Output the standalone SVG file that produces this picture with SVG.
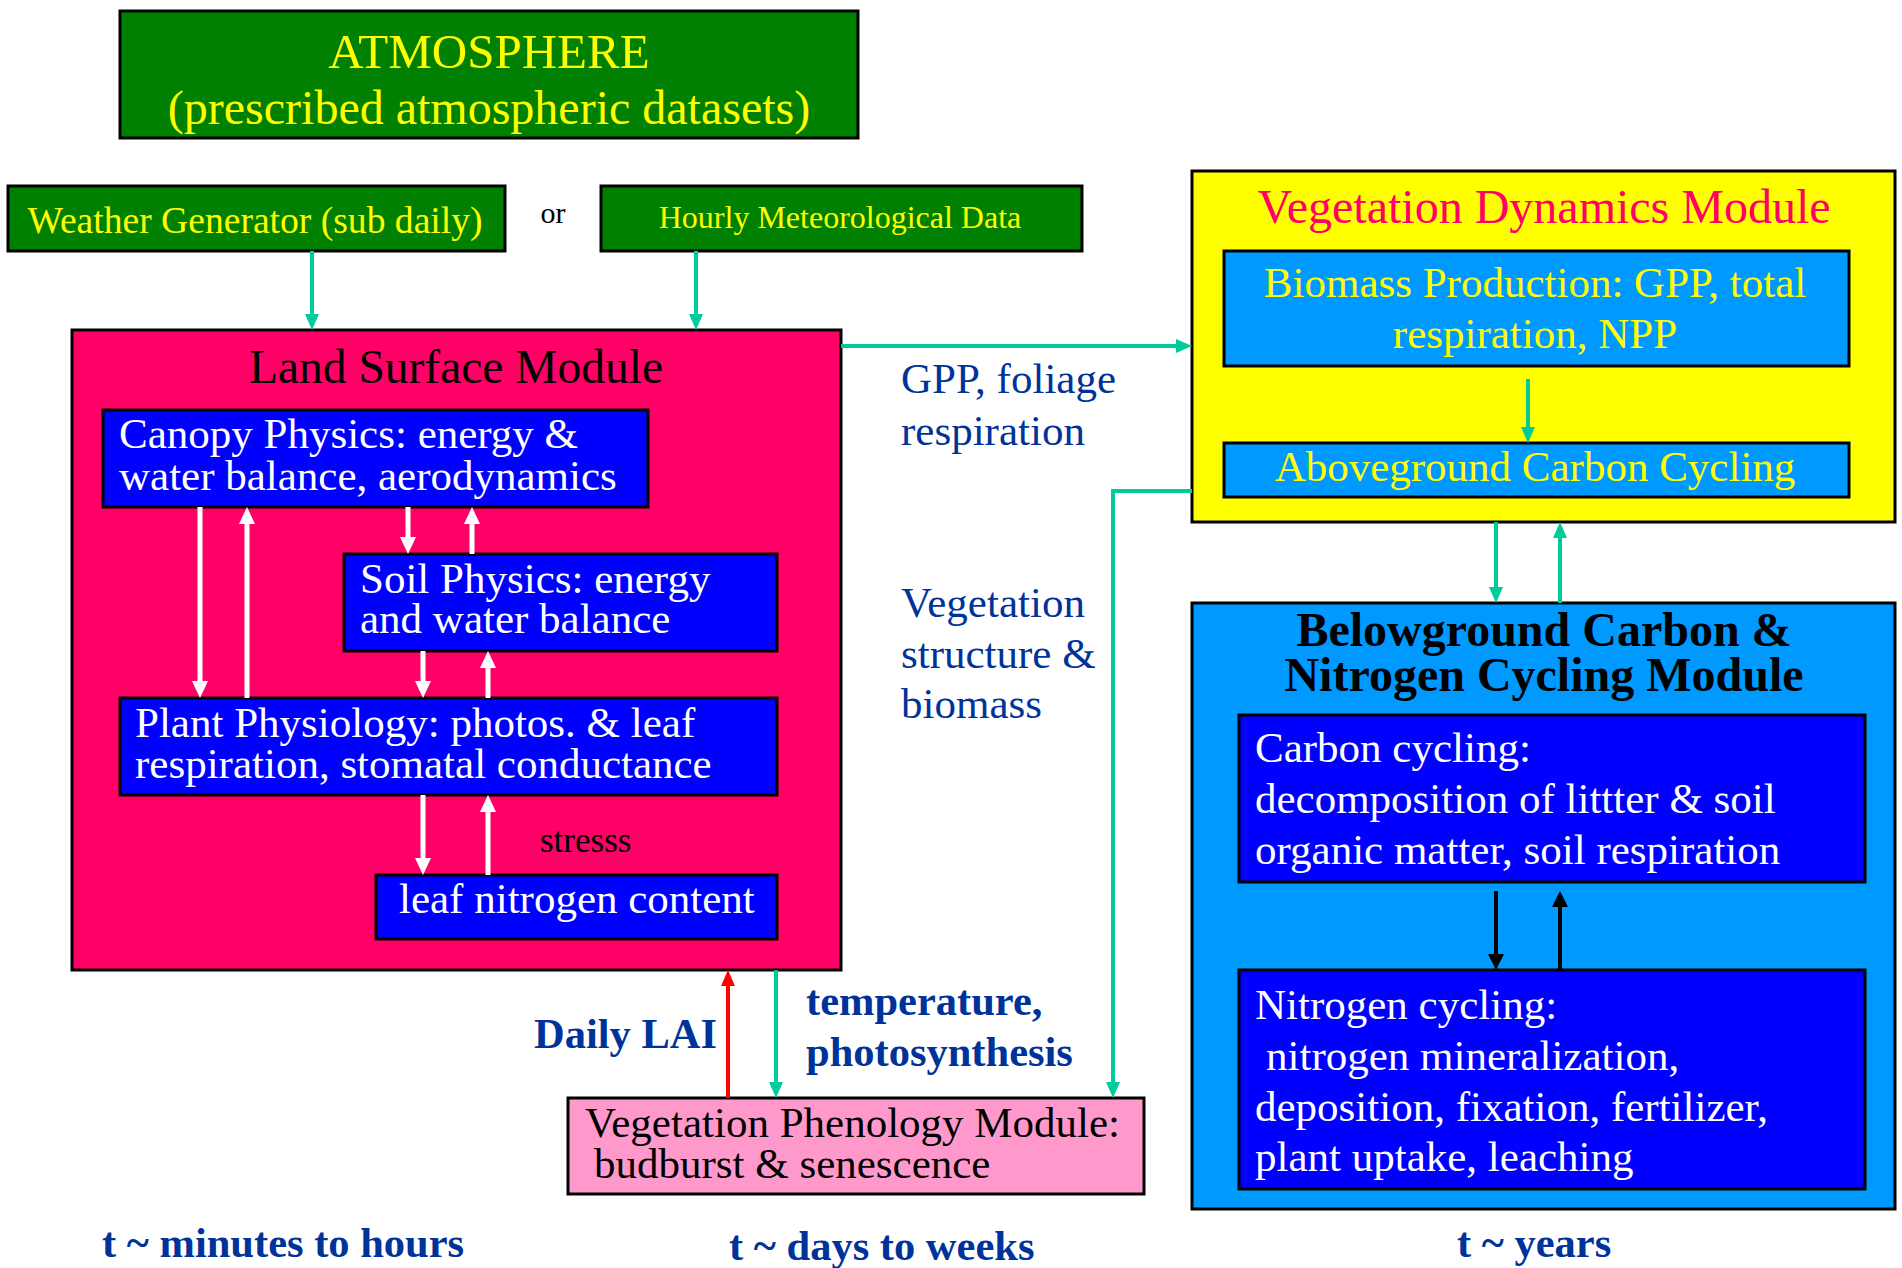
<svg xmlns="http://www.w3.org/2000/svg" width="1902" height="1268" viewBox="0 0 1902 1268">
<style>
text{font-family:"Liberation Serif","Times New Roman",serif}
.box{stroke:#000;stroke-width:3}
.green{fill:#008000}
.blue{fill:#0000FF}
.lblue{fill:#0099FF}
.yl{fill:#FFFF00}
.wt{fill:#FFFFFF}
.dk{fill:#003399}
.b{font-weight:bold}
.teal{stroke:#00CC99;stroke-width:4;fill:none;marker-end:url(#mT)}
.white{stroke:#FFFFFF;stroke-width:5;fill:none;marker-end:url(#mW)}
.black{stroke:#000;stroke-width:4;fill:none;marker-end:url(#mK)}
.red{stroke:#FF0000;stroke-width:4;fill:none;marker-end:url(#mR)}
</style>
<defs>
<marker id="mT" markerUnits="userSpaceOnUse" markerWidth="16" markerHeight="14" refX="6" refY="7" orient="auto"><path d="M0,0L16,7L0,14z" fill="#00CC99"/></marker>
<marker id="mW" markerUnits="userSpaceOnUse" markerWidth="17" markerHeight="16" refX="7" refY="8" orient="auto"><path d="M0,0L17,8L0,16z" fill="#FFFFFF"/></marker>
<marker id="mK" markerUnits="userSpaceOnUse" markerWidth="16" markerHeight="16" refX="6" refY="8" orient="auto"><path d="M0,0L16,8L0,16z" fill="#000"/></marker>
<marker id="mR" markerUnits="userSpaceOnUse" markerWidth="16" markerHeight="14" refX="6" refY="7" orient="auto"><path d="M0,0L16,7L0,14z" fill="#FF0000"/></marker>
</defs>
<rect width="1902" height="1268" fill="#FFFFFF"/>

<g id="atmosphere">
<rect class="box green" x="120" y="11" width="738" height="127"/>
<text x="489" y="68" font-size="49" text-anchor="middle" class="yl">ATMOSPHERE</text>
<text x="489" y="124" font-size="48" text-anchor="middle" class="yl">(prescribed atmospheric datasets)</text>
</g>

<g id="weather-generator">
<rect class="box green" x="8" y="186" width="497" height="65"/>
<text x="255" y="233" font-size="37.6" text-anchor="middle" class="yl">Weather Generator (sub daily)</text>
</g>

<text id="or" x="553" y="223" font-size="30" text-anchor="middle" fill="#000">or</text>

<g id="hourly-data">
<rect class="box green" x="601" y="186" width="481" height="65"/>
<text x="840" y="228" font-size="32" text-anchor="middle" class="yl">Hourly Meteorological Data</text>
</g>

<g id="land-surface">
<rect class="box" fill="#FF0066" x="72" y="330" width="769" height="640"/>
<text x="456" y="383" font-size="47.5" text-anchor="middle" fill="#000">Land Surface Module</text>
</g>

<g id="canopy">
<rect class="box blue" x="103" y="410" width="545" height="97"/>
<text x="119" y="448" font-size="43" class="wt">Canopy Physics: energy &amp;</text>
<text x="119" y="490" font-size="43" class="wt">water balance, aerodynamics</text>
</g>

<g id="soil">
<rect class="box blue" x="344" y="554" width="433" height="97"/>
<text x="360" y="593" font-size="43" class="wt">Soil Physics: energy</text>
<text x="360" y="633" font-size="43" class="wt">and water balance</text>
</g>

<g id="plant">
<rect class="box blue" x="120" y="698" width="657" height="97"/>
<text x="135" y="737" font-size="43" class="wt">Plant Physiology: photos. &amp; leaf</text>
<text x="135" y="778" font-size="43" class="wt">respiration, stomatal conductance</text>
</g>

<g id="leaf-nitrogen">
<rect class="box blue" x="376" y="875" width="401" height="64"/>
<text x="399" y="913" font-size="43" class="wt">leaf nitrogen content</text>
</g>

<text id="stress" x="540" y="852" font-size="35" fill="#000">stresss</text>

<g id="veg-dynamics">
<rect class="box" fill="#FFFF00" x="1192" y="171" width="703" height="351"/>
<text x="1544" y="223" font-size="48" text-anchor="middle" fill="#FF0066">Vegetation Dynamics Module</text>
</g>

<g id="biomass">
<rect class="box lblue" x="1224" y="251" width="625" height="115"/>
<text x="1535" y="297" font-size="43" text-anchor="middle" class="yl">Biomass Production: GPP, total</text>
<text x="1535" y="348" font-size="43" text-anchor="middle" class="yl">respiration, NPP</text>
</g>

<g id="aboveground">
<rect class="box lblue" x="1224" y="443" width="625" height="54"/>
<text x="1535" y="481" font-size="43" text-anchor="middle" class="yl">Aboveground Carbon Cycling</text>
</g>

<g id="belowground">
<rect class="box lblue" x="1192" y="603" width="703" height="606"/>
<text x="1544" y="646" font-size="48" text-anchor="middle" class="b" fill="#000">Belowground Carbon &amp;</text>
<text x="1544" y="691" font-size="48" text-anchor="middle" class="b" fill="#000">Nitrogen Cycling Module</text>
</g>

<g id="carbon-cycling">
<rect class="box blue" x="1239" y="715" width="626" height="167"/>
<text x="1255" y="762" font-size="43" class="wt">Carbon cycling:</text>
<text x="1255" y="813" font-size="43" class="wt">decomposition of littter &amp; soil</text>
<text x="1255" y="864" font-size="43" class="wt">organic matter, soil respiration</text>
</g>

<g id="nitrogen-cycling">
<rect class="box blue" x="1239" y="970" width="626" height="219"/>
<text x="1255" y="1019" font-size="43" class="wt">Nitrogen cycling:</text>
<text x="1266" y="1070" font-size="43" class="wt">nitrogen mineralization,</text>
<text x="1255" y="1121" font-size="43" class="wt">deposition, fixation, fertilizer,</text>
<text x="1255" y="1171" font-size="43" class="wt">plant uptake, leaching</text>
</g>

<g id="phenology">
<rect class="box" fill="#FF99CC" x="568" y="1098" width="576" height="96"/>
<text x="585" y="1137" font-size="43" fill="#000">Vegetation Phenology Module:</text>
<text x="594" y="1178" font-size="43" fill="#000">budburst &amp; senescence</text>
</g>

<g id="labels">
<text x="901" y="393" font-size="43" class="dk">GPP, foliage</text>
<text x="901" y="445" font-size="43" class="dk">respiration</text>
<text x="901" y="617" font-size="43" class="dk">Vegetation</text>
<text x="901" y="668" font-size="43" class="dk">structure &amp;</text>
<text x="901" y="718" font-size="43" class="dk">biomass</text>
<text x="534" y="1048" font-size="42.5" class="dk b">Daily LAI</text>
<text x="806" y="1015" font-size="42.5" class="dk b">temperature,</text>
<text x="806" y="1066" font-size="42.5" class="dk b">photosynthesis</text>
<text x="102" y="1257" font-size="42.5" class="dk b">t ~ minutes to hours</text>
<text x="729" y="1260" font-size="42.5" class="dk b">t ~ days to weeks</text>
<text x="1457" y="1257" font-size="42.5" class="dk b">t ~ years</text>
</g>

<g id="connectors">
<line class="teal" x1="312" y1="251" x2="312" y2="320"/>
<line class="teal" x1="696" y1="251" x2="696" y2="320"/>
<line class="teal" x1="841" y1="346" x2="1182" y2="346"/>
<line class="teal" x1="1528" y1="379" x2="1528" y2="433"/>
<polyline class="teal" points="1192,491 1113,491 1113,1088"/>
<line class="teal" x1="1496" y1="522" x2="1496" y2="593"/>
<line class="teal" x1="1560" y1="603" x2="1560" y2="532"/>
<line class="teal" x1="776" y1="970" x2="776" y2="1088"/>
<line class="red" x1="728" y1="1098" x2="728" y2="980"/>
<line class="white" x1="200" y1="507" x2="200" y2="688"/>
<line class="white" x1="247" y1="698" x2="247" y2="517"/>
<line class="white" x1="408" y1="507" x2="408" y2="544"/>
<line class="white" x1="472" y1="554" x2="472" y2="517"/>
<line class="white" x1="423" y1="651" x2="423" y2="688"/>
<line class="white" x1="488" y1="698" x2="488" y2="661"/>
<line class="white" x1="423" y1="795" x2="423" y2="865"/>
<line class="white" x1="488" y1="875" x2="488" y2="805"/>
<line class="black" x1="1496" y1="891" x2="1496" y2="960"/>
<line class="black" x1="1560" y1="970" x2="1560" y2="901"/>
</g>
</svg>
